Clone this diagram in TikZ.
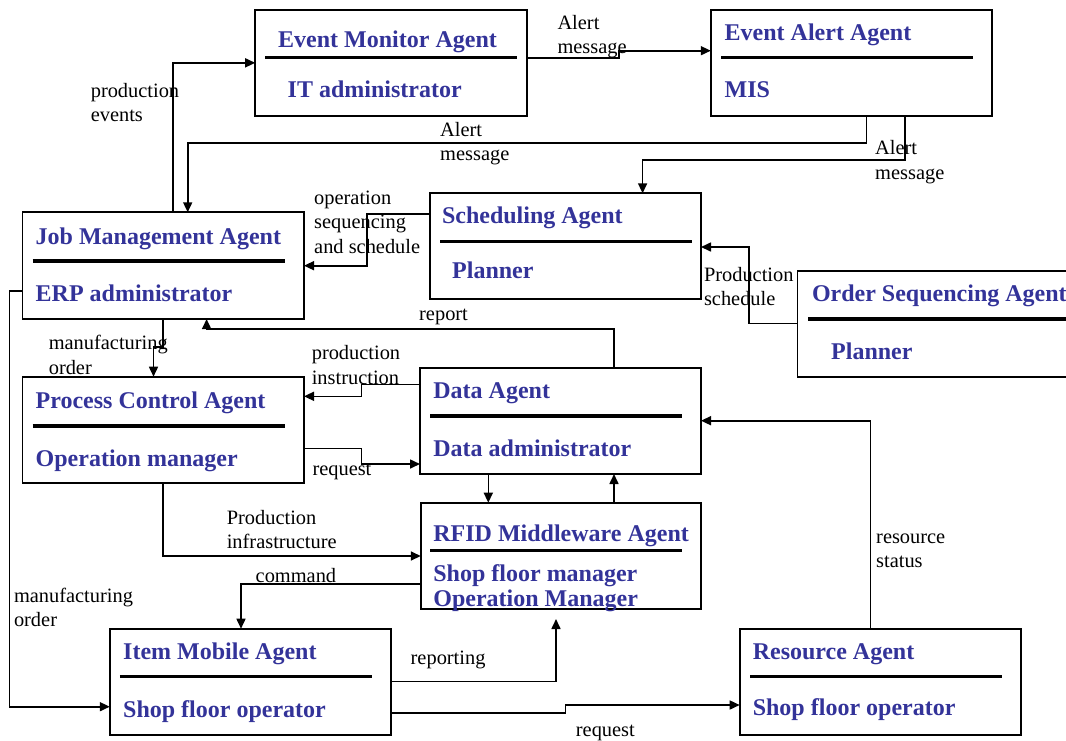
\documentclass[tikz,border=0pt]{standalone}
\usepackage{fontspec}
\setmainfont{Liberation Serif}
\usetikzlibrary{arrows.meta,positioning}
\definecolor{agentblue}{RGB}{51,51,153}

\begin{document}
\begin{tikzpicture}[x=1pt,y=-1pt,
    agent/.style={draw, line width=1.7pt, anchor=north west, inner sep=0pt, outer sep=0pt},
    head/.style={anchor=base west, inner sep=0pt, text=agentblue, font=\fontsize{24}{26}\selectfont\bfseries},
    msg/.style={anchor=base west, inner sep=0pt, align=left, font=\fontsize{20.4}{24.5}\selectfont},
    bar/.style={line width=3.4pt},
    flow/.style={line width=1.6pt, -{Triangle[length=10pt,width=9pt]}}]
\useasboundingbox (0,0) rectangle (1066,740);

% agents
\node[agent, minimum width=271.7pt, minimum height=106.3pt] (emon) at (255.2,9.7) {};
\node[head] (emon-t) at (278,47) {Event Monitor Agent};
\draw[bar] (265,57.7) -- (516.5,57.7);
\node[head] (emon-r) at (287.5,97) {IT administrator};

\node[agent, minimum width=281pt, minimum height=106.3pt] (ealert) at (710.8,9.7) {};
\node[head] (ealert-t) at (724.5,40) {Event Alert Agent};
\draw[bar] (721,57.7) -- (972.6,57.7);
\node[head] (ealert-r) at (724.5,97.5) {MIS};

\node[agent, minimum width=281.6pt, minimum height=106.7pt] (jma) at (22.4,212.3) {};
\node[head] (jma-t) at (35.5,244) {Job Management Agent};
\draw[bar] (32.7,261) -- (284.8,261);
\node[head] (jma-r) at (35.5,301.5) {ERP administrator};

\node[agent, minimum width=271.2pt, minimum height=106pt] (sched) at (429.8,193.3) {};
\node[head] (sched-t) at (441.8,223) {Scheduling Agent};
\draw[bar] (440,241.3) -- (691.5,241.3);
\node[head] (sched-r) at (452,278.5) {Planner};

\node[agent, minimum width=270pt, minimum height=106pt] (oseq) at (797.5,270.7) {};
\node[head] (oseq-t) at (811.8,301.5) {Order Sequencing Agent};
\draw[bar] (808.3,319) -- (1066,319);
\node[head] (oseq-r) at (831,359.5) {Planner};

\node[agent, minimum width=281.6pt, minimum height=106.6pt] (pca) at (22.4,376.7) {};
\node[head] (pca-t) at (35.5,408) {Process Control Agent};
\draw[bar] (32.7,426) -- (284.8,426);
\node[head] (pca-r) at (35.5,466.5) {Operation manager};

\node[agent, minimum width=281pt, minimum height=106.3pt] (data) at (420,367.7) {};
\node[head] (data-t) at (433.2,398.5) {Data Agent};
\draw[bar] (430.4,416) -- (682,416);
\node[head] (data-r) at (433.2,456) {Data administrator};

\node[agent, minimum width=280.2pt, minimum height=106.3pt] (rfid) at (420.8,502.7) {};
\node[head] (rfid-t) at (433.2,541) {RFID Middleware Agent};
\draw[bar] (430.4,550.7) -- (682,550.7);
\node[head] (rfid-r) at (433.2,581.5) {Shop floor manager};
\node[head] (rfid-r2) at (433.2,606.5) {Operation Manager};

\node[agent, minimum width=281pt, minimum height=106.3pt] (item) at (109.8,628.7) {};
\node[head] (item-t) at (123,659.5) {Item Mobile Agent};
\draw[bar] (119.8,676.7) -- (372,676.7);
\node[head] (item-r) at (123,717) {Shop floor operator};

\node[agent, minimum width=281pt, minimum height=106pt] (res) at (739.7,629) {};
\node[head] (res-t) at (752.6,659.5) {Resource Agent};
\draw[bar] (750,676.7) -- (1001.5,676.7);
\node[head] (res-r) at (752.6,715) {Shop floor operator};

% messages (base = last line)
\node[msg] (l-prodev) at (90.6,121.5) {production\\events};
\node[msg] (l-alert1) at (557.3,53.5) {Alert\\message};
\node[msg] (l-alert2) at (440,160.5) {Alert\\message};
\node[msg] (l-alert3) at (875,179) {Alert\\message};
\node[msg] (l-opseq) at (314,253) {operation\\sequencing\\and schedule};
\node[msg] (l-prodsch) at (703.8,305.5) {Production\\schedule};
\node[msg] (l-report) at (419,320) {report};
\node[msg] (l-mfg1) at (48.6,374) {manufacturing\\order};
\node[msg] (l-prodins) at (311.6,384) {production\\instruction};
\node[msg] (l-req1) at (312.3,475) {request};
\node[msg] (l-prodinf) at (226.6,548.5) {Production\\infrastructure};
\node[msg] (l-cmd) at (255.5,582) {command};
\node[msg] (l-mfg2) at (13.8,626.5) {manufacturing\\order};
\node[msg] (l-rep) at (410.5,664) {reporting};
\node[msg] (l-req2) at (575.7,736) {request};
\node[msg] (l-resst) at (876,567.5) {resource\\status};

% connectors
\draw[flow] (jma.north -| 173,0) |- (emon.west);
\draw[flow] (emon.east |- 0,57.7) -- (619.2,57.7) -- (619.2,50.7) -- (ealert.west |- 0,50.7);
\draw[flow] (ealert.south -| 866.4,0) |- (187.7,142.7) -- (jma.north -| 187.7,0);
\draw[flow] (ealert.south -| 904.7,0) |- (642.6,160) -- (sched.north -| 642.6,0);
\draw[flow] (sched.west |- 0,214) -| (367,265.7) -- (jma.east |- 0,265.7);
\draw[flow] (oseq.west |- 0,323.3) -| (749,247) -- (sched.east |- 0,247);
\draw[flow] (data.north -| 614,0) |- (206.6,329) -- (jma.south -| 206.6,0);
\draw[flow] (jma.south -| 163.2,0) -- (163.2,347) -- (153.5,347) -- (pca.north -| 153.5,0);
\draw[flow] (data.west |- 0,384.3) -| (361.6,396.3) -- (pca.east |- 0,396.3);
\draw[flow] (pca.east |- 0,448.3) -| (361.6,464) -- (data.west |- 0,464);
\draw[flow] (data.south -| 488.3,0) -- (rfid.north -| 488.3,0);
\draw[flow] (rfid.north -| 614,0) -- (data.south -| 614,0);
\draw[flow] (pca.south -| 163.2,0) |- (rfid.west |- 0,556);
\draw[flow] (rfid.west |- 0,584) -| (item.north -| 241,0);
\draw[flow] (jma.west |- 0,291) -| (9.6,706.7) -- (item.west |- 0,706.7);
\coordinate (rep-tip) at (556,619);
\draw[flow] (item.east |- 0,681.3) -| (rep-tip);
\draw[flow] (item.east |- 0,712.7) -- (565.3,712.7) |- (res.west |- 0,705);
\draw[flow] (res.north -| 870.6,0) |- (data.east |- 0,420.7);
\end{tikzpicture}
\end{document}
